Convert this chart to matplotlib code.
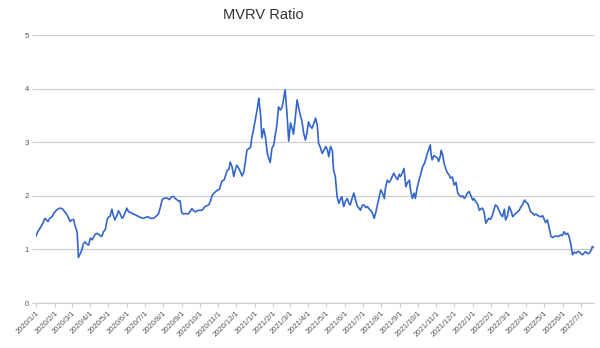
import matplotlib
matplotlib.use("Agg")
import matplotlib.pyplot as plt
import matplotlib.dates as mdates
import matplotlib.ticker as mticker
import pandas as pd

title = "MVRV Ratio"
start_date = "2020-01-01"
end_day = 934

# days since 2020-01-01
days = [0, 3, 7, 12, 15, 20, 23, 27, 30, 35, 40, 44, 47, 51, 54, 57, 60, 63, 65, 68,
        69, 71, 74, 77, 79, 82, 85, 88, 91, 94, 99, 102, 107, 110, 113, 116, 119, 121, 124, 127,
        129, 132, 135, 138, 141, 144, 146, 149, 152, 155, 158, 163, 169, 174, 180, 184, 188, 191, 197, 199,
        205, 208, 211, 213, 219, 223, 227, 230, 233, 239, 241, 244, 247, 251, 255, 261, 264, 267, 272, 278,
        283, 289, 292, 295, 298, 303, 307, 311, 315, 320, 323, 325, 328, 331, 334, 336, 339, 342, 345, 348,
        350, 353, 356, 359, 361, 364, 367, 370, 373, 374, 376, 378, 381, 384, 387, 389, 392, 395, 398, 401,
        403, 406, 409, 412, 415, 417, 420, 423, 426, 429, 431, 434, 437, 440, 443, 445, 448, 451, 454, 456,
        459, 462, 465, 468, 471, 473, 476, 479, 482, 485, 488, 490, 493, 496, 498, 501, 504, 507, 510, 512,
        515, 518, 521, 524, 526, 529, 532, 535, 538, 540, 543, 546, 549, 552, 555, 557, 560, 563, 566, 569,
        572, 574, 577, 580, 583, 585, 588, 591, 594, 597, 599, 602, 605, 608, 610, 613, 616, 619, 622, 625,
        627, 630, 633, 635, 638, 641, 644, 647, 650, 652, 655, 657, 660, 661, 663, 666, 669, 672, 674, 677,
        678, 681, 683, 686, 689, 691, 694, 697, 700, 703, 706, 708, 711, 714, 717, 719, 722, 725, 728, 731,
        733, 736, 739, 742, 744, 747, 750, 753, 756, 758, 761, 764, 767, 769, 772, 775, 778, 781, 784, 786,
        789, 792, 795, 798, 801, 803, 806, 809, 811, 814, 816, 818, 820, 823, 825, 828, 831, 834, 837, 839,
        842, 845, 848, 850, 853, 856, 859, 862, 865, 867, 870, 873, 876, 878, 881, 884, 887, 890, 892, 895,
        898, 901, 904, 907, 909, 912, 915, 918, 920, 923, 926, 929, 931, 934]

mvrv = [1.25, 1.33, 1.40, 1.50, 1.58, 1.52, 1.58, 1.61, 1.68, 1.74, 1.77, 1.76, 1.72, 1.66, 1.60, 1.52, 1.55, 1.56, 1.45, 1.36,
        1.30, 0.85, 0.92, 1.00, 1.10, 1.14, 1.10, 1.08, 1.21, 1.18, 1.28, 1.30, 1.26, 1.24, 1.33, 1.37, 1.55, 1.60, 1.62, 1.75,
        1.65, 1.55, 1.62, 1.72, 1.66, 1.58, 1.60, 1.68, 1.77, 1.70, 1.69, 1.66, 1.63, 1.60, 1.58, 1.60, 1.61, 1.58, 1.58, 1.60,
        1.66, 1.78, 1.92, 1.95, 1.96, 1.93, 1.98, 1.99, 1.95, 1.90, 1.91, 1.68, 1.66, 1.67, 1.66, 1.76, 1.72, 1.70, 1.73, 1.73,
        1.80, 1.83, 1.90, 2.01, 2.05, 2.10, 2.12, 2.27, 2.30, 2.47, 2.50, 2.63, 2.55, 2.36, 2.50, 2.57, 2.52, 2.45, 2.37, 2.45,
        2.60, 2.85, 2.88, 2.90, 3.07, 3.23, 3.41, 3.60, 3.82, 3.70, 3.50, 3.08, 3.25, 3.10, 2.80, 2.72, 2.62, 2.89, 2.95, 3.17,
        3.30, 3.66, 3.60, 3.65, 3.85, 3.98, 3.55, 3.02, 3.36, 3.25, 3.15, 3.45, 3.79, 3.62, 3.48, 3.40, 3.17, 3.04, 3.20, 3.38,
        3.30, 3.26, 3.35, 3.45, 3.30, 2.98, 2.90, 2.79, 2.85, 2.92, 2.85, 2.73, 2.92, 2.85, 2.48, 2.36, 1.98, 1.86, 1.95, 1.98,
        1.80, 1.90, 1.95, 1.85, 1.83, 1.95, 2.05, 1.92, 1.80, 1.78, 1.73, 1.82, 1.83, 1.78, 1.80, 1.76, 1.73, 1.68, 1.58, 1.70,
        1.86, 1.95, 2.11, 2.05, 1.95, 2.15, 2.29, 2.25, 2.30, 2.38, 2.42, 2.35, 2.30, 2.40, 2.36, 2.42, 2.51, 2.17, 2.25, 2.29,
        2.10, 1.95, 2.05, 1.95, 2.15, 2.29, 2.40, 2.54, 2.60, 2.67, 2.79, 2.85, 2.95, 2.80, 2.67, 2.75, 2.73, 2.70, 2.64, 2.75,
        2.85, 2.75, 2.61, 2.50, 2.42, 2.40, 2.33, 2.35, 2.20, 2.25, 2.05, 2.02, 1.98, 2.00, 1.95, 1.98, 2.05, 2.08, 2.00, 1.92,
        1.95, 1.89, 1.85, 1.73, 1.75, 1.77, 1.70, 1.49, 1.55, 1.58, 1.56, 1.64, 1.75, 1.83, 1.80, 1.73, 1.65, 1.61, 1.75, 1.55,
        1.62, 1.80, 1.72, 1.61, 1.65, 1.67, 1.70, 1.73, 1.78, 1.83, 1.88, 1.92, 1.88, 1.86, 1.80, 1.70, 1.68, 1.64, 1.66, 1.64,
        1.62, 1.61, 1.63, 1.58, 1.50, 1.55, 1.40, 1.24, 1.22, 1.24, 1.25, 1.24, 1.25, 1.27, 1.26, 1.33, 1.28, 1.30, 1.25, 1.11,
        0.90, 0.95, 0.93, 0.96, 0.96, 0.92, 0.90, 0.94, 0.96, 0.92, 0.93, 0.98, 1.05, 1.04]

y_ticks = [0, 1, 2, 3, 4, 5]

t0 = pd.Timestamp(start_date)
dates = t0 + pd.to_timedelta(days, unit="D")

plt.rcParams['font.family'] = ['Liberation Sans', 'DejaVu Sans']

fig = plt.figure(figsize=(6.0, 3.48), dpi=100)
ax = fig.add_axes([36/600, 45/348, (594-36)/600, (303-35)/348])

ax.plot(dates, mvrv, color="#3366cc", linewidth=1.2, solid_joinstyle="round")

ax.set_ylim(0, 5)
ax.set_yticks(y_ticks)
ax.set_xlim(t0, t0 + pd.Timedelta(days=end_day))
ax.grid(axis="y", color="#cccccc", linewidth=0.8)
ax.set_axisbelow(True)
for s in ["top", "right", "left"]:
    ax.spines[s].set_visible(False)
ax.spines["bottom"].set_color("#cccccc")
ax.spines["bottom"].set_linewidth(0.8)

ax.xaxis.set_major_locator(mdates.MonthLocator())
ax.xaxis.set_major_formatter(mticker.FuncFormatter(
    lambda v, p: (lambda d: f"{d.year}/{d.month}/{d.day}")(mdates.num2date(v))))
ax.tick_params(axis="x", length=3, color="#cccccc", labelsize=5.5, labelcolor="#555555", pad=2)
ax.tick_params(axis="y", length=3, color="#cccccc", labelsize=5.5, labelcolor="#555555", pad=2)
for lab in ax.get_xticklabels():
    lab.set_rotation(45)
    lab.set_ha("right")
    lab.set_va("top")
    lab.set_rotation_mode("anchor")

fig.text(263/600, 1 - 15/348, title, ha="center", va="center", fontsize=10.5, color="#333333")

fig.savefig("out.png", dpi=100)
